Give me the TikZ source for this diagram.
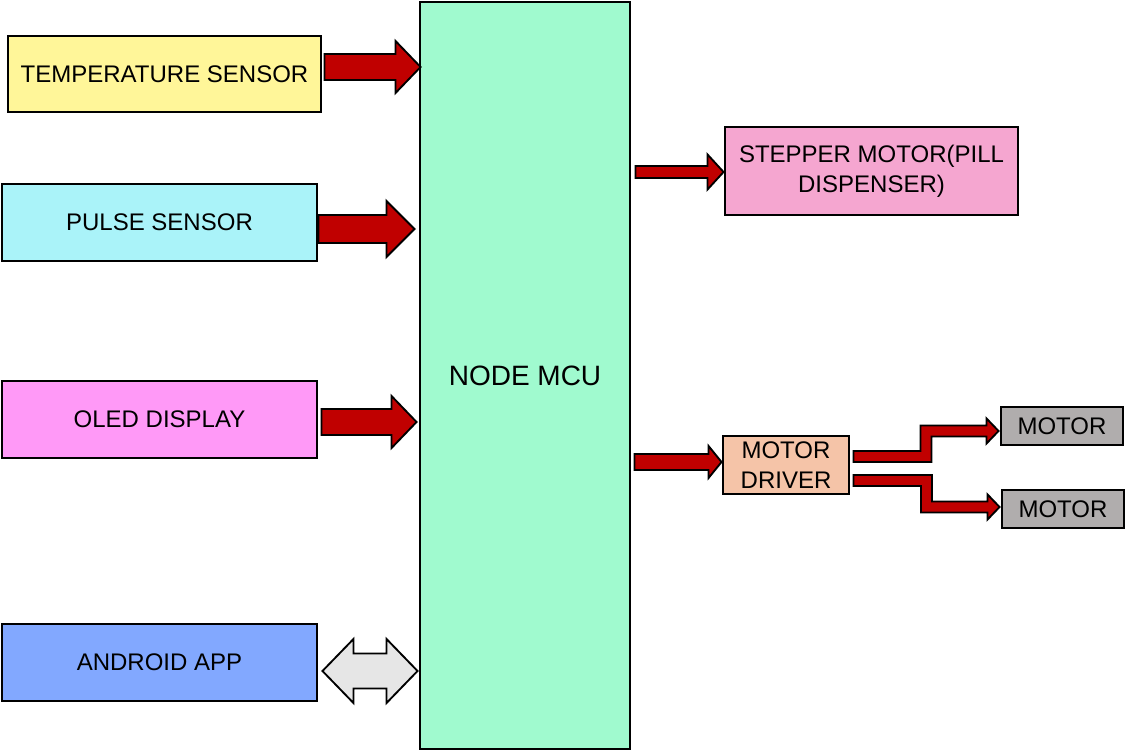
\documentclass[tikz,border=0pt]{standalone}
\usepackage{fontspec}
\setmainfont{Liberation Sans}
\usetikzlibrary{calc}

\definecolor{tempfill}{RGB}{255,246,153}
\definecolor{pulsefill}{RGB}{170,243,249}
\definecolor{oledfill}{RGB}{255,153,247}
\definecolor{appfill}{RGB}{130,168,255}
\definecolor{mcufill}{RGB}{160,250,207}
\definecolor{stepfill}{RGB}{245,166,208}
\definecolor{drvfill}{RGB}{245,196,168}
\definecolor{motfill}{RGB}{176,173,173}
\definecolor{arrred}{RGB}{192,0,0}
\definecolor{arrgray}{RGB}{230,230,230}

\tikzset{
  block/.style={draw, line width=2.2pt, inner sep=0pt, align=center,
    font=\fontsize{18}{22.5}\selectfont},
  fatarrow/.style={draw, fill=arrred, line width=1.4pt, line join=miter},
  dblarrow/.style={draw, fill=arrgray, line width=1.4pt, line join=miter}
}

% fat arrow: start, tip, shaft half width, head half width, head length
\newcommand{\fatarrow}[5]{%
  \draw[fatarrow] ($(#1)+(0,-#3)$) -- ($(#2)+(-#5,-#3)$) -- ($(#2)+(-#5,-#4)$) -- (#2) -- ($(#2)+(-#5,#4)$) -- ($(#2)+(-#5,#3)$) -- ($(#1)+(0,#3)$) -- cycle;}
% two headed arrow: left tip, right tip, shaft half width, head half width, head length
\newcommand{\twoarrow}[5]{%
  \draw[dblarrow] (#1) -- ($(#1)+(#5,-#4)$) -- ($(#1)+(#5,-#3)$) -- ($(#2)+(-#5,-#3)$) -- ($(#2)+(-#5,-#4)$) -- (#2) -- ($(#2)+(-#5,#4)$) -- ($(#2)+(-#5,#3)$) -- ($(#1)+(#5,#3)$) -- ($(#1)+(#5,#4)$) -- cycle;}
% elbow arrow: start, tip, signed offset (-5.5 up, 5.5 down)
\newcommand{\elbowarrow}[3]{%
  \coordinate (em) at ($(#1)!0.5!(#2)$);
  \draw[fatarrow] ($(#1)+(0,-5.5)$) -- ($(em |- #1)+(#3,-5.5)$) -- ($(em |- #2)+(#3,-5.5)$) -- ($(#2)+(-12,-5.5)$) -- ($(#2)+(-12,-12.5)$) -- (#2) -- ($(#2)+(-12,12.5)$) -- ($(#2)+(-12,5.5)$) -- ($(em |- #2)+({0-(#3)},5.5)$) -- ($(em |- #1)+({0-(#3)},5.5)$) -- ($(#1)+(0,5.5)$) -- cycle;}

\begin{document}
\begin{tikzpicture}[x=0.75pt,y=0.75pt,yscale=-1,xscale=1]
\useasboundingbox (0,0) rectangle (1126,752);

% Blocks
\node[block, fill=tempfill, minimum width=234.75pt, minimum height=57pt] (temp) at (164.5,74) {TEMPERATURE SENSOR};
\node[block, fill=pulsefill, minimum width=236.25pt, minimum height=57.75pt] (pulse) at (159.5,222.5) {PULSE SENSOR};
\node[block, fill=oledfill, minimum width=236.25pt, minimum height=57.75pt] (oled) at (159.5,419.5) {OLED DISPLAY};
\node[block, fill=appfill, minimum width=236.25pt, minimum height=57.75pt] (app) at (159.5,662.5) {ANDROID APP};
\node[block, fill=mcufill, minimum width=157.5pt, minimum height=560.25pt, font=\fontsize{21}{24}\selectfont] (mcu) at (525,375.5) {NODE MCU};
\node[block, fill=stepfill, minimum width=219.75pt, minimum height=66pt] (step) at (871.5,171) {STEPPER MOTOR(PILL\\DISPENSER)};
\node[block, fill=drvfill, minimum width=94.5pt, minimum height=43.5pt] (drv) at (786,465) {MOTOR\\DRIVER};
\node[block, fill=motfill, minimum width=91.5pt, minimum height=28.5pt] (mot1) at (1062,426) {MOTOR};
\node[block, fill=motfill, minimum width=91.5pt, minimum height=28.5pt] (mot2) at (1063,509) {MOTOR};

% Arrow ends
\coordinate (a1) at ($(temp.east)+(2,-7)$);
\coordinate (b1) at ($(mcu.west |- temp.east)+(2,-7)$);
\coordinate (a2) at ($(pulse.east)+(0,6.5)$);
\coordinate (b2) at ($(mcu.west |- pulse.east)+(-4,6.5)$);
\coordinate (a3) at ($(oled.east)+(3,2.5)$);
\coordinate (b3) at ($(mcu.west |- oled.east)+(-2,2.5)$);
\coordinate (a4) at ($(app.east)+(4,8.5)$);
\coordinate (b4) at ($(mcu.west |- app.east)+(-1,8.5)$);
\coordinate (a5) at ($(mcu.east |- step.west)+(4,1)$);
\coordinate (b5) at ($(step.west)+(0,1)$);
\coordinate (a6) at ($(mcu.east |- drv.west)+(3,-3)$);
\coordinate (b6) at ($(drv.west)+(0,-3)$);
\coordinate (a7) at ($(drv.east)+(3,-8.5)$);
\coordinate (b7) at ($(mot1.west)+(-1,5)$);
\coordinate (a8) at ($(drv.east)+(3,15.5)$);
\coordinate (b8) at ($(mot2.west)+(-1,-2)$);

% Arrows
\fatarrow{a1}{b1}{13}{26}{25}
\fatarrow{a2}{b2}{14}{28}{28}
\fatarrow{a3}{b3}{13}{26}{25}
\twoarrow{a4}{b4}{17.5}{32}{31}
\fatarrow{a5}{b5}{6}{17.5}{16}
\fatarrow{a6}{b6}{8}{16}{13}
\elbowarrow{a7}{b7}{-5.5}
\elbowarrow{a8}{b8}{5.5}

\end{tikzpicture}
\end{document}
